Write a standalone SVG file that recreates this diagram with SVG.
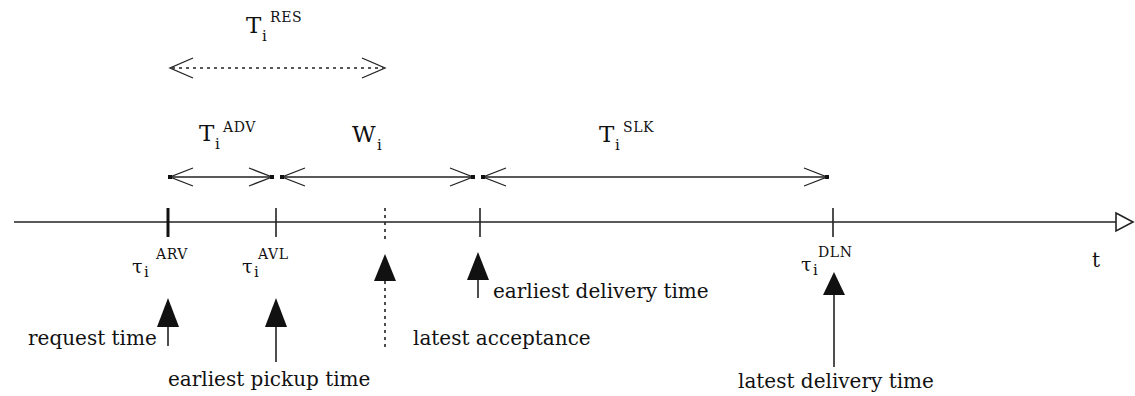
<svg xmlns="http://www.w3.org/2000/svg" width="1135" height="396" viewBox="0 0 1135 396">
<style>
text{font-family:"DejaVu Serif","Liberation Serif",serif;fill:#111}
.lbl{font-size:20px}
.big{font-size:23px}
.sub{font-size:15px}
.sup{font-size:14px;letter-spacing:0.6px}
.tau{font-size:19px}
.ln{stroke:#222;stroke-width:1.6;fill:none}
.chev{stroke:#222;stroke-width:1.3;fill:none}
.dot{stroke:#222;stroke-width:1.6;fill:none;stroke-dasharray:3 4}
.head{fill:#111;stroke:none}
.tip{fill:#111}
</style>
<rect width="1135" height="396" fill="#fff"/>
<g id="axis">
<line class="ln" x1="14" y1="222" x2="1116" y2="222"/>
<path d="M1116,213 L1133,222 L1116,231 Z" fill="#fff" stroke="#222" stroke-width="1.6"/>
<text class="lbl" x="1092" y="267">t</text>
</g>
<g id="tick-arv">
<line x1="168" y1="208" x2="168" y2="237" stroke="#111" stroke-width="3"/>
<text class="tau" x="132" y="273">τ</text><text class="sub" x="144" y="277">i</text><text class="sup" x="156" y="259">ARV</text>
</g>
<g id="tick-avl">
<line class="ln" x1="276" y1="208" x2="276" y2="237"/>
<text class="tau" x="242" y="273">τ</text><text class="sub" x="254" y="277">i</text><text class="sup" x="258" y="259">AVL</text>
</g>
<g id="tick-acc">
<line class="dot" x1="385" y1="208" x2="385" y2="240" stroke-width="2"/>
</g>
<g id="tick-edt">
<line class="ln" x1="480" y1="208" x2="480" y2="237"/>
</g>
<g id="tick-dln">
<line class="ln" x1="833" y1="208" x2="833" y2="237"/>
<text class="tau" x="801" y="271">τ</text><text class="sub" x="813" y="275">i</text><text class="sup" x="818" y="257">DLN</text>
</g>
<g id="label-res">
<text class="big" x="246" y="33">T</text><text class="sub" x="262" y="41">i</text><text class="sup" x="270" y="22">RES</text>
</g>
<g id="label-adv">
<text class="big" x="199" y="141">T</text><text class="sub" x="215" y="149">i</text><text class="sup" x="223" y="132">ADV</text>
</g>
<g id="label-w">
<text class="big" x="352" y="142">W</text><text class="sub" x="377" y="150">i</text>
</g>
<g id="label-slk">
<text class="big" x="599" y="142">T</text><text class="sub" x="615" y="150">i</text><text class="sup" x="623" y="132">SLK</text>
</g>
<g id="request-time">
<text class="lbl" x="28" y="345">request time</text>
</g>
<g id="earliest-pickup">
<text class="lbl" x="168" y="386">earliest pickup time</text>
</g>
<g id="latest-acceptance">
<text class="lbl" x="413" y="345">latest acceptance</text>
</g>
<g id="earliest-delivery">
<text class="lbl" x="493" y="298">earliest delivery time</text>
</g>
<g id="latest-delivery">
<text class="lbl" x="738" y="388">latest delivery time</text>
</g>
<g id="connectors">
<line class="dot" x1="172" y1="68" x2="383" y2="68"/>
<polyline class="chev" points="193,58 170,68 193,78"/>
<polyline class="chev" points="362,58 385,68 362,78"/>
<line class="ln" x1="170" y1="177" x2="272" y2="177"/>
<polyline class="chev" points="193,168 170,177 193,186"/>
<polyline class="chev" points="249,168 272,177 249,186"/>
<rect class="tip" x="168" y="175" width="4" height="4"/><rect class="tip" x="270" y="175" width="4" height="4"/>
<line class="ln" x1="282" y1="177" x2="473" y2="177"/>
<polyline class="chev" points="305,168 282,177 305,186"/>
<polyline class="chev" points="450,168 473,177 450,186"/>
<rect class="tip" x="280" y="175" width="4" height="4"/><rect class="tip" x="471" y="175" width="4" height="4"/>
<line class="ln" x1="483" y1="177" x2="827" y2="177"/>
<polyline class="chev" points="506,168 483,177 506,186"/>
<polyline class="chev" points="804,168 827,177 804,186"/>
<rect class="tip" x="481" y="175" width="4" height="4"/><rect class="tip" x="825" y="175" width="4" height="4"/>
<line class="ln" x1="168" y1="326" x2="168" y2="346"/>
<path class="head" d="M168,298 L157,327 L179,327 Z"/>
<line class="ln" x1="276" y1="326" x2="276" y2="362"/>
<path class="head" d="M276,298 L265,327 L287,327 Z"/>
<line class="dot" x1="385" y1="281" x2="385" y2="347" stroke-width="2"/>
<path class="head" d="M385,254 L374,281 L396,281 Z"/>
<line class="ln" x1="478" y1="279" x2="478" y2="298"/>
<path class="head" d="M478,252 L467,280 L489,280 Z"/>
<line class="ln" x1="834" y1="294" x2="834" y2="367"/>
<path class="head" d="M834,272 L823,295 L845,295 Z"/>
</g>
</svg>
